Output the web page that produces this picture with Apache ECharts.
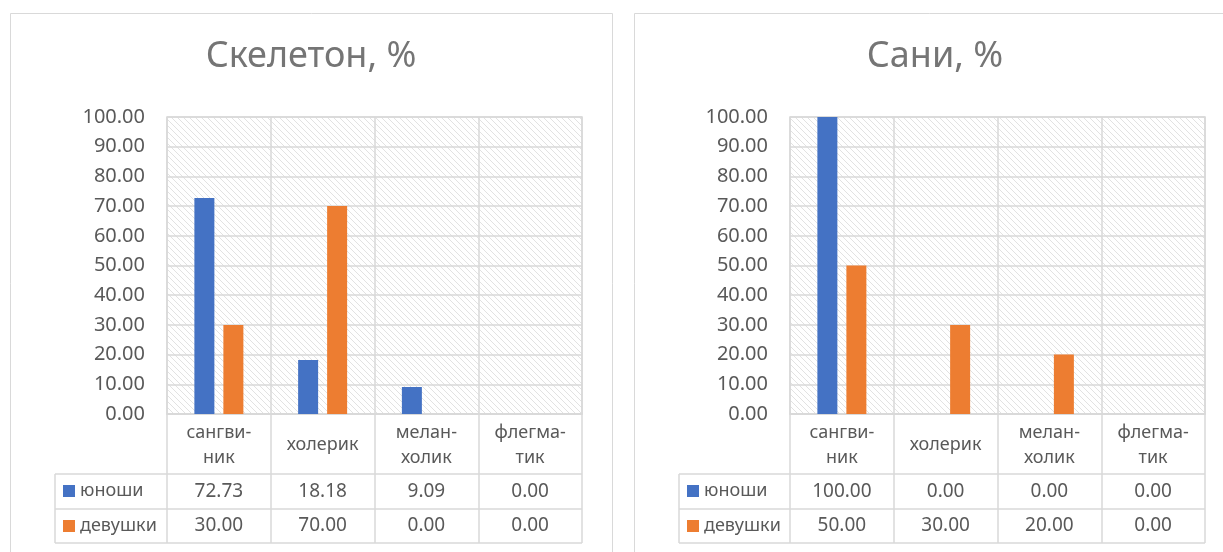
<!DOCTYPE html>
<html>
<head>
<meta charset="utf-8">
<script src="https://cdn.jsdelivr.net/npm/echarts@6/dist/echarts.min.js"></script>
<style>
  html, body { margin: 0; padding: 0; background: #ffffff; }
  #chart { width: 1223px; height: 552px; }
</style>
</head>
<body>
<div id="chart"></div>
<script>
// Temperament categories (axis labels, hyphenated as in the table)
const categories = ['сангви-\nник', 'холерик', 'мелан-\nхолик', 'флегма-\nтик'];
const seriesNames = ['юноши', 'девушки'];

// Percentages per group
const skeletonBoys  = [72.73, 18.18, 9.09, 0.00];
const skeletonGirls = [30.00, 70.00, 0.00, 0.00];
const saniBoys      = [100.00, 0.00, 0.00, 0.00];
const saniGirls     = [50.00, 30.00, 20.00, 0.00];

const titles = ['Скелетон, %', 'Сани, %'];
const boysData  = [skeletonBoys, saniBoys];
const girlsData = [skeletonGirls, saniGirls];

// Value axis
const yMin = 0, yMax = 100, yStep = 10;

// Panel geometry
const layouts = [
  { frameX: 10,  frameW: 602, gridLeft: 167, tableLeft: 55,  titleX: 311 },
  { frameX: 634, frameW: 620, gridLeft: 790, tableLeft: 679, titleX: 935 }
];
const gridTop = 117, gridH = 297, gridW = 415;
const rowLines = [474, 509, 543];

const FONT = 'Noto Sans';
const TEXT = '#595959';
const LINE = '#d9d9d9';
const BLUE = '#4472C4';
const ORANGE = '#ED7D31';

// Light downward-diagonal hatch for the plot area
function hatch() {
  const c = document.createElement('canvas');
  c.width = 6; c.height = 6;
  const g = c.getContext('2d');
  g.fillStyle = '#ffffff';
  g.fillRect(0, 0, 6, 6);
  g.strokeStyle = '#e2e2e2';
  g.lineWidth = 1;
  g.beginPath();
  g.moveTo(-1, -1); g.lineTo(7, 7);
  g.moveTo(-1, 5); g.lineTo(1, 7);
  g.moveTo(5, -1); g.lineTo(7, 1);
  g.stroke();
  return { image: c, repeat: 'repeat' };
}
const pattern = hatch();

const grid = [], xAxis = [], yAxis = [], series = [], legend = [], graphic = [];

layouts.forEach((L, p) => {
  const boys = boysData[p], girls = girlsData[p];

  // frame of the panel
  graphic.push({
    type: 'rect', z: 0, silent: true,
    shape: { x: L.frameX + 0.5, y: 13.5, width: L.frameW, height: 600 },
    style: { fill: null, stroke: LINE, lineWidth: 1 }
  });
  // title
  graphic.push({
    type: 'text', x: L.titleX, y: 57, z: 10,
    style: { text: titles[p], align: 'center', verticalAlign: 'middle',
             font: '36px "' + FONT + '"', fill: '#757575' }
  });
  // data table row lines
  rowLines.forEach(y => {
    graphic.push({
      type: 'line', z: 5, silent: true,
      shape: { x1: L.tableLeft, y1: y, x2: L.gridLeft + gridW, y2: y },
      style: { stroke: LINE, lineWidth: 1.5 }
    });
  });
  graphic.push({
    type: 'line', z: 5, silent: true,
    shape: { x1: L.tableLeft, y1: rowLines[0], x2: L.tableLeft, y2: rowLines[2] },
    style: { stroke: LINE, lineWidth: 1.5 }
  });

  grid.push({
    left: L.gridLeft, top: gridTop, width: gridW, height: gridH,
    show: true, backgroundColor: pattern, borderColor: LINE, borderWidth: 1.5
  });

  yAxis.push({
    type: 'value', gridIndex: p, min: yMin, max: yMax, interval: yStep,
    axisLine: { show: false }, axisTick: { show: false },
    splitLine: { show: true, lineStyle: { color: LINE, width: 1.5 } },
    axisLabel: { formatter: v => v.toFixed(2), fontSize: 20, color: TEXT,
                 fontFamily: FONT, margin: 22 }
  });

  // category axis; its long ticks are the table's column separators
  xAxis.push({
    type: 'category', gridIndex: p, data: categories, position: 'bottom',
    axisLine: { show: true, lineStyle: { color: LINE, width: 1.5 } },
    axisTick: { show: true, length: rowLines[2] - (gridTop + gridH),
                lineStyle: { color: LINE, width: 1.5 } },
    splitLine: { show: true, lineStyle: { color: LINE, width: 1.5 } },
    axisLabel: { interval: 0, fontSize: 18, lineHeight: 25, color: TEXT,
                 fontFamily: FONT, margin: 31, verticalAlign: 'middle', align: 'center' }
  });
  // table rows as offset axes carrying the values
  [boys, girls].forEach((vals, r) => {
    const rowMid = (rowLines[r] + rowLines[r + 1]) / 2;
    xAxis.push({
      type: 'category', gridIndex: p, data: categories, position: 'bottom',
      offset: rowMid - (gridTop + gridH),
      axisLine: { show: false }, axisTick: { show: false }, splitLine: { show: false },
      axisLabel: { interval: 0, margin: 0, verticalAlign: 'middle', fontSize: 19,
                   color: TEXT, fontFamily: FONT,
                   formatter: (v, i) => vals[i].toFixed(2) }
    });
  });

  series.push({
    name: seriesNames[0], type: 'bar', xAxisIndex: p * 3, yAxisIndex: p,
    data: boys, barWidth: 20, barGap: '45%', itemStyle: { color: BLUE }, z: 3
  });
  series.push({
    name: seriesNames[1], type: 'bar', xAxisIndex: p * 3, yAxisIndex: p,
    data: girls, barWidth: 20, barGap: '45%', itemStyle: { color: ORANGE }, z: 3
  });

  legend.push({
    orient: 'vertical', left: L.tableLeft + 8, top: 481, padding: 0,
    itemWidth: 12, itemHeight: 12, itemGap: 15, icon: 'rect',
    selectedMode: false, data: seriesNames,
    textStyle: { fontSize: 18, lineHeight: 20, color: TEXT, fontFamily: FONT }
  });
});

const chart = echarts.init(document.getElementById('chart'), null, { renderer: 'canvas' });
chart.setOption({
  animation: false,
  backgroundColor: '#ffffff',
  textStyle: { fontFamily: FONT },
  grid, xAxis, yAxis, series, legend, graphic
});
</script>
</body>
</html>
